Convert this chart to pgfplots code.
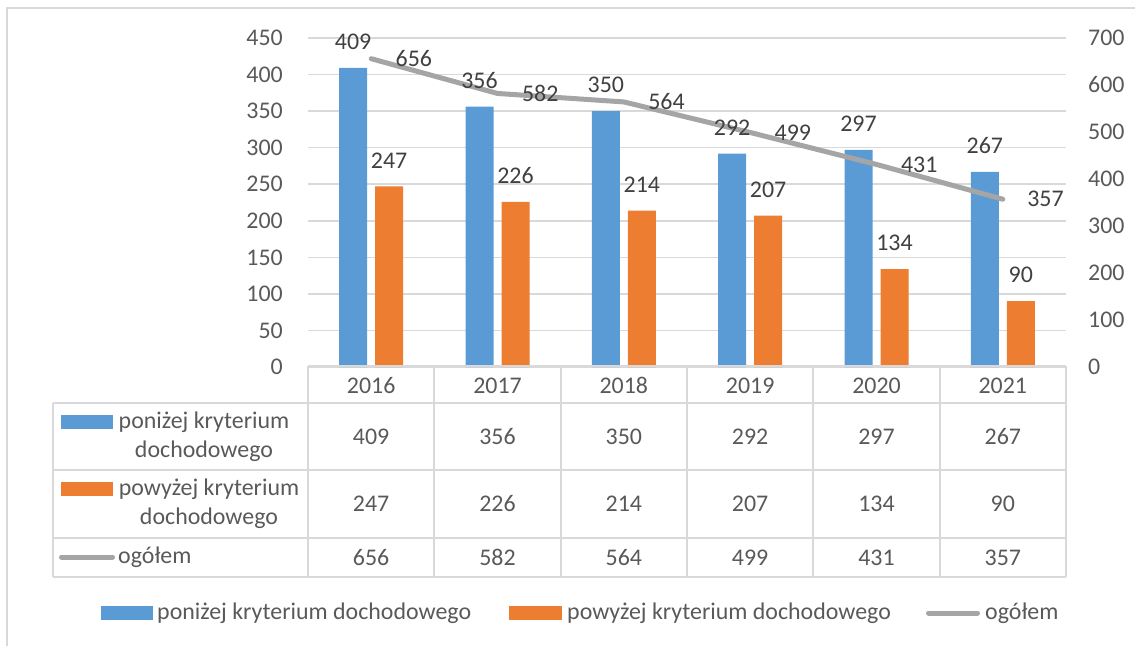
\documentclass[border=0pt]{standalone}
\usepackage{pgfplots}
\usepackage{pgfplotstable}
\pgfplotsset{compat=1.18}
\usepackage{fontspec}
\setmainfont{Carlito}
\definecolor{cblue}{HTML}{5B9BD5}
\definecolor{corange}{HTML}{ED7D31}
\definecolor{cgray}{HTML}{A5A5A5}
\definecolor{ctext}{HTML}{595959}
\definecolor{clabel}{HTML}{404040}
\definecolor{cgrid}{HTML}{D9D9D9}

\pgfplotstableread{
x below above total
0 409 247 656
1 356 226 582
2 350 214 564
3 292 207 499
4 297 134 431
5 267 90 357
}\datatable

\newcommand{\bigf}{\fontsize{24}{29}\selectfont}

\begin{document}
\begin{tikzpicture}
\useasboundingbox (0bp,0bp) rectangle (1135bp,-646bp);
\draw[cgrid, line width=1.5bp] (7bp,-700bp) -- (7bp,-8bp) -- (1200bp,-8bp);

\pgfplotsset{common/.style={
  scale only axis, width=758bp, height=329bp,
  at={(308bp,-367bp)}, anchor=south west,
  xmin=-0.5, xmax=5.5,
  /pgf/number format/assume math mode=true,
  tick label style={font=\bigf, text=ctext},
  major tick length=0pt,
  axis line style={draw=none},
  clip=false}}

% bars
\begin{axis}[common,
  ymin=0, ymax=450, ytick={0,50,...,450},
  ymajorgrids, grid style={cgrid, line width=1.5bp},
  xtick={0,...,5}, xticklabels={2016,2017,2018,2019,2020,2021},
  xticklabel style={anchor=center, inner sep=0pt, yshift=-18.5bp},
  yticklabel style={anchor=east, inner sep=0pt, xshift=-25bp}]
\addplot[ybar, bar width=28bp, bar shift=-18bp, fill=cblue, draw=none] table[x=x,y=below]{\datatable};
\addplot[ybar, bar width=28bp, bar shift=18bp, fill=corange, draw=none] table[x=x,y=above]{\datatable};
\end{axis}

% line (secondary axis)
\begin{axis}[common,
  ymin=0, ymax=700, ytick={0,100,...,700},
  axis y line*=right, xtick=\empty,
  yticklabel style={anchor=west, inner sep=0pt, xshift=22bp},
  nodes near coords,
  every node near coord/.append style={font=\bigf, text=clabel, anchor=west, inner sep=0pt, xshift=22bp}]
\addplot[cgray, line width=5bp, line cap=round, line join=round, mark=none] table[x=x,y=total]{\datatable};
\end{axis}

% bar data labels, on top of the line
\begin{axis}[common,
  ymin=0, ymax=450, xtick=\empty, ytick=\empty,
  nodes near coords,
  every node near coord/.append style={font=\bigf, text=clabel, anchor=south, inner sep=0pt, yshift=18bp}]
\addplot[draw=none, mark=none, every node near coord/.append style={xshift=-18bp}] table[x=x,y=below]{\datatable};
\addplot[draw=none, mark=none, every node near coord/.append style={xshift=18bp}] table[x=x,y=above]{\datatable};
\end{axis}

\begin{scope}[x=1bp, y=1bp]
% data table
\begin{scope}[cgrid, line width=2bp]
\draw (308,-366) -- (1066,-366);
\foreach \y in {403,470,538,577} \draw (53,-\y) -- (1066,-\y);
\draw (53,-403) -- (53,-577);
\foreach \i in {0,...,6} \draw ({308+126.333*\i},-366) -- ({308+126.333*\i},-577);
\end{scope}

\begin{scope}[font=\bigf, text=ctext]
\foreach \i in {0,...,5} {
  \pgfplotstablegetelem{\i}{below}\of\datatable
  \node[inner sep=0pt] at ({371.17+126.333*\i},-436.5) {\pgfplotsretval};
  \pgfplotstablegetelem{\i}{above}\of\datatable
  \node[inner sep=0pt] at ({371.17+126.333*\i},-504) {\pgfplotsretval};
  \pgfplotstablegetelem{\i}{total}\of\datatable
  \node[inner sep=0pt] at ({371.17+126.333*\i},-557.5) {\pgfplotsretval};
}
\fill[cblue] (61,-415) rectangle (113,-429);
\node[align=center, inner sep=0pt] at (204,-437) {poniżej kryterium\\dochodowego};
\fill[corange] (61,-482) rectangle (113,-496);
\node[align=center, inner sep=0pt] at (209,-504) {powyżej kryterium\\dochodowego};
\draw[cgray, line width=5bp, line cap=round] (61.5,-557) -- (112.5,-557);
\node[anchor=west, inner sep=0pt] at (118,-557.5) {ogółem};

% legend
\fill[cblue] (101,-606) rectangle (153,-620);
\node[anchor=west, inner sep=0pt] at (157,-613.5) {poniżej kryterium dochodowego};
\fill[corange] (509,-606) rectangle (562,-620);
\node[anchor=west, inner sep=0pt] at (567,-613.5) {powyżej kryterium dochodowego};
\draw[cgray, line width=5bp, line cap=round] (928.5,-613) -- (977.5,-613);
\node[anchor=west, inner sep=0pt] at (985,-613.5) {ogółem};
\end{scope}
\end{scope}
\end{tikzpicture}
\end{document}
